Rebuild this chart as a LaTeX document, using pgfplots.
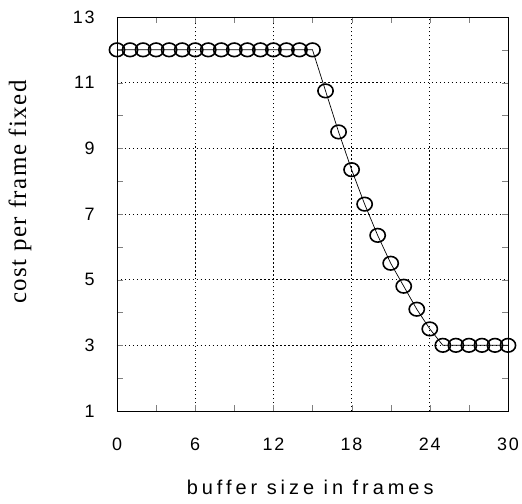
\documentclass[border=0pt]{standalone}
\usepackage{fontspec}
\setmainfont{Liberation Sans}
\newfontfamily\tickfont[LetterSpace=10]{Liberation Sans}
\newfontfamily\xlabfont[LetterSpace=20]{Liberation Sans}
\newfontfamily\ylabfont[LetterSpace=6]{Liberation Serif}
\usepackage{pgfplots}
\pgfplotsset{compat=1.18}

\begin{document}
\begin{tikzpicture}
\begin{axis}[
    scale only axis,
    width=391bp, height=394bp,
    at={(0,0)}, anchor=south west,
    xmin=0, xmax=30, ymin=1, ymax=13,
    xtick={0,6,12,18,24,30},
    ytick={1,3,5,7,9,11,13},
    minor xtick={3,9,15,21,27},
    minor ytick={2,4,6,8,10,12},
    tick align=inside,
    major tick length=6bp, minor tick length=6bp,
    grid=major,
    major grid style={black, line width=0.7pt, dash pattern=on 1.5pt off 2.5pt},
    axis line style={black, line width=0.9pt},
    /pgf/number format/assume math mode=true,
    ticklabel style={font=\tickfont\fontsize{18}{20}\selectfont},
    yticklabel style={xshift=-19pt},
    xticklabel style={yshift=-24pt},
    xlabel={\xlabfont\fontsize{20}{22}\selectfont buffer size in frames},
    ylabel={\ylabfont\fontsize{25}{27}\selectfont cost per frame fixed},
    xlabel style={at={(axis description cs:0.494,-0.195)}, anchor=center},
    ylabel style={at={(axis description cs:-0.248,0.556)}, anchor=center},
]
\addplot[black, line width=0.7pt, mark=o, mark size=6.8bp,
         mark options={line width=1.6pt, xscale=1.12}]
coordinates {
(0,12) (1,12) (2,12) (3,12) (4,12) (5,12) (6,12) (7,12)
(8,12) (9,12) (10,12) (11,12) (12,12) (13,12) (14,12) (15,12)
(16,10.75) (17,9.5) (18,8.35) (19,7.3) (20,6.35) (21,5.5)
(22,4.8) (23,4.1) (24,3.5)
(25,3) (26,3) (27,3) (28,3) (29,3) (30,3)
};
\end{axis}
\pgfresetboundingbox
\useasboundingbox (-117bp,-93bp) rectangle (405bp,411bp);
\end{tikzpicture}
\end{document}
